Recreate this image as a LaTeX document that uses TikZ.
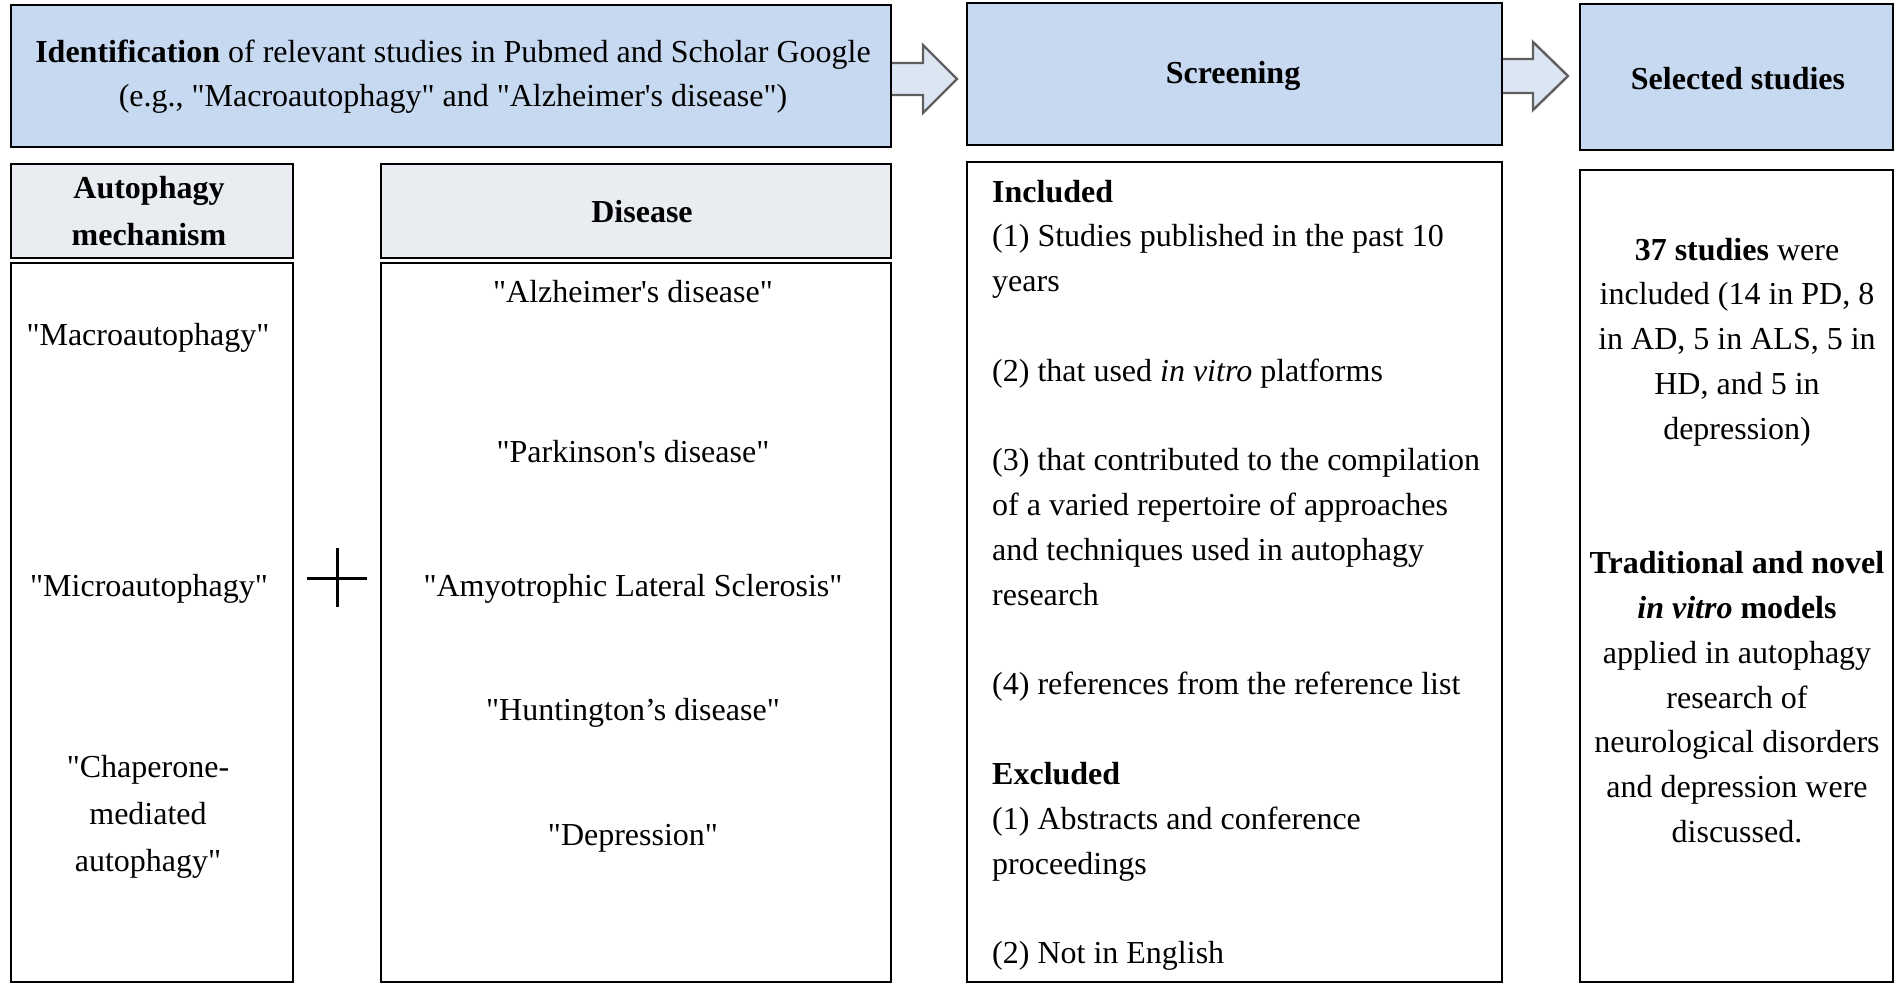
\documentclass[tikz,border=0pt]{standalone}
\usepackage{fontspec}
\setmainfont{Liberation Serif}[Ligatures=TeXOff]
\definecolor{topblue}{RGB}{198,217,240}
\definecolor{headgray}{RGB}{233,237,241}
\definecolor{arrfill}{RGB}{220,230,242}
\definecolor{arrdraw}{RGB}{95,95,95}
\begin{document}
\begin{tikzpicture}[x=1pt,y=-1pt,
  box/.style={draw=black,line width=2.8pt,rectangle,inner sep=0pt,outer sep=0pt,anchor=north west},
  txt/.style={inner sep=0pt,font=\fontsize{32}{44.8}\selectfont},
  txtw/.style={inner sep=0pt,font=\fontsize{32}{47}\selectfont},
  blockarrow/.style={fill=arrfill,draw=arrdraw,line width=2.4pt,line join=miter}]
\fill[white] (0,0) rectangle (1901,986);
\useasboundingbox (0,0) rectangle (1901,986);
% block arrows (drawn first, boxes cover their tails)
\draw[blockarrow] (890,63) -- (923,63) -- (923,45) -- (957,79) -- (923,113) -- (923,95) -- (890,95) -- cycle;
\draw[blockarrow] (1501,59) -- (1533,59) -- (1533,42) -- (1568,76) -- (1533,110) -- (1533,93) -- (1501,93) -- cycle;
% top row
\node[box,fill=topblue,minimum width=880pt,minimum height=142pt] (ident) at (11,5) {};
\node[box,fill=topblue,minimum width=535pt,minimum height=142pt] (screen) at (967,3) {};
\node[box,fill=topblue,minimum width=313pt,minimum height=146pt] (select) at (1580,4) {};
% second row
\node[box,fill=headgray,minimum width=282pt,minimum height=94pt] (autoh) at (11,164) {};
\node[box,fill=white,minimum width=282pt,minimum height=719pt] (autob) at (11,263) {};
\node[box,fill=headgray,minimum width=510pt,minimum height=94pt] (dish) at (381,164) {};
\node[box,fill=white,minimum width=510pt,minimum height=719pt] (disb) at (381,263) {};
\node[box,fill=white,minimum width=535pt,minimum height=820pt] (screenb) at (967,162) {};
\node[box,fill=white,minimum width=313pt,minimum height=812pt] (selectb) at (1580,170) {};
% plus sign
\draw[line width=3pt] (307,578) -- (367,578);
\draw[line width=3pt] (337,548) -- (337,607);
% top texts (anchor base = baseline of the last line)
\node[txt,anchor=base,align=center] (identtxt) at (453,106.8) {\textbf{Identification} of relevant studies in Pubmed and Scholar Google\\(e.g., "Macroautophagy" and "Alzheimer's disease")};
\node[txt,anchor=base] (screentxt) at (1233,83) {\textbf{Screening}};
\node[txt,anchor=base] (selecttxt) at (1738,89) {\textbf{Selected studies}};
% headers
\node[txtw,anchor=base,align=center] (autohtxt) at (149,245) {\textbf{Autophagy}\\\textbf{mechanism}};
\node[txt,anchor=base] (dishtxt) at (642,222) {\textbf{Disease}};
% autophagy mechanisms
\node[txt,anchor=base] (macro) at (148,345) {"Macroautophagy"};
\node[txt,anchor=base] (micro) at (149,596) {"Microautophagy"};
\node[txtw,anchor=base,align=center] (chap) at (148,871) {"Chaperone-\\mediated\\autophagy"};
% diseases
\node[txt,anchor=base] (ad) at (633,302) {"Alzheimer's disease"};
\node[txt,anchor=base] (pd) at (633,462) {"Parkinson's disease"};
\node[txt,anchor=base] (als) at (633,596) {"Amyotrophic Lateral Sclerosis"};
\node[txt,anchor=base] (hd) at (633,720) {"Huntington’s disease"};
\node[txt,anchor=base] (dep) at (633,845) {"Depression"};
% screening criteria
\node[txt,anchor=base west,align=left] (crit) at (992,963.6) {\textbf{Included}\\
(1) Studies published in the past 10\\
years\\[44.8pt]
(2) that used \textit{in vitro} platforms\\[44.8pt]
(3) that contributed to the compilation\\
of a varied repertoire of approaches\\
and techniques used in autophagy\\
research\\[44.8pt]
(4) references from the reference list\\[44.8pt]
\textbf{Excluded}\\
(1) Abstracts and conference\\
proceedings\\[44.8pt]
(2) Not in English};
% selected summary
\node[txt,anchor=base,align=center] (summary) at (1737,842.4) {\textbf{37 studies} were\\
included (14 in PD, 8\\
in AD, 5 in ALS, 5 in\\
HD, and 5 in\\
depression)\\[89.6pt]
\textbf{Traditional and novel}\\
\textbf{\textit{in vitro} models}\\
applied in autophagy\\
research of\\
neurological disorders\\
and depression were\\
discussed.};
\end{tikzpicture}
\end{document}
